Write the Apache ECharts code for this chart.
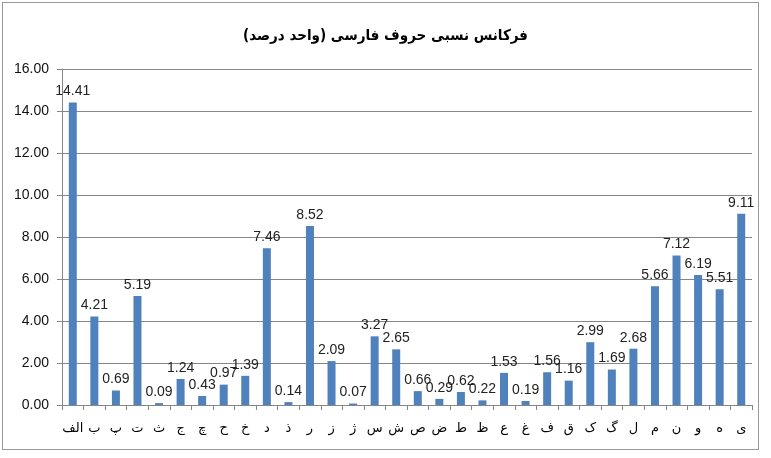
<!DOCTYPE html>
<html><head><meta charset="utf-8">
<script src="https://cdn.jsdelivr.net/npm/echarts@6/dist/echarts.min.js"></script>
<style>html,body{margin:0;padding:0;background:#fff;}
#c{position:absolute;left:0;top:0;width:771px;height:458px;}
#frame{position:absolute;left:2px;top:2px;width:757px;height:448px;border:1px solid #9a9a9a;box-sizing:border-box;}
</style></head>
<body><div id="frame"></div><div id="c"></div>
<script>
const titleText = 'فرکانس نسبی حروف فارسی (واحد درصد)';
const categories = ['الف','ب','پ','ت','ث','ج','چ','ح','خ','د','ذ','ر','ز','ژ','س','ش','ص','ض','ط','ظ','ع','غ','ف','ق','ک','گ','ل','م','ن','و','ه','ی'];
const values = [14.41,4.21,0.69,5.19,0.09,1.24,0.43,0.97,1.39,7.46,0.14,8.52,2.09,0.07,3.27,2.65,0.66,0.29,0.62,0.22,1.53,0.19,1.56,1.16,2.99,1.69,2.68,5.66,7.12,6.19,5.51,9.11];
const yMin = 0, yMax = 16, yStep = 2;

const chart = echarts.init(document.getElementById('c'));
chart.setOption({
  animation:false,
  backgroundColor:'transparent',
  title:{text:titleText,left:'center',top:24,textStyle:{fontFamily:'DejaVu Sans Condensed, DejaVu Sans',fontWeight:'bold',fontSize:15,color:'#000'}},
  grid:{left:62,right:19,top:69,bottom:53},
  xAxis:{type:'category',data:categories,
    axisLine:{lineStyle:{color:'#868686'}},
    axisTick:{show:true,alignWithLabel:false,length:5,lineStyle:{color:'#868686'}},
    axisLabel:{interval:0,margin:17,fontFamily:'DejaVu Sans',fontSize:13,color:'#000'}},
  yAxis:{type:'value',min:yMin,max:yMax,interval:yStep,
    axisLine:{show:true,lineStyle:{color:'#868686'}},
    axisTick:{show:true,length:5,lineStyle:{color:'#868686'}},
    splitLine:{lineStyle:{color:'#868686'}},
    axisLabel:{margin:13,fontFamily:'Liberation Sans',fontSize:14,color:'#111',formatter:v=>v.toFixed(2)}},
  series:[{type:'bar',data:values,barWidth:8,itemStyle:{color:'#4f81bd'},
    label:{show:true,position:'top',distance:4,fontFamily:'Liberation Sans',fontSize:14,color:'#222',formatter:p=>p.value.toFixed(2)}}]
});
</script></body></html>
